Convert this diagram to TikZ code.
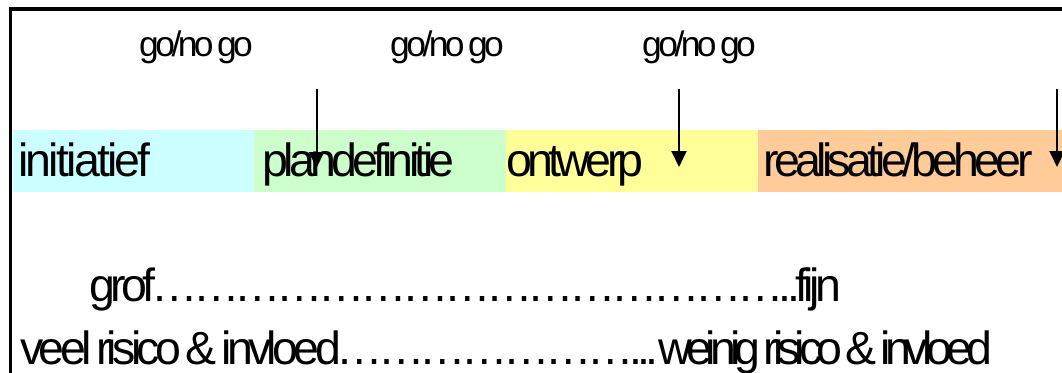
\documentclass[tikz,border=0pt]{standalone}
\usepackage{fontspec}
\setmainfont{Liberation Sans}[LetterSpace=-10,WordSpace=0.55]
\usetikzlibrary{arrows.meta}
\definecolor{bcyan}{HTML}{CCFFFF}
\definecolor{bgreen}{HTML}{CCFFCC}
\definecolor{byellow}{HTML}{FFFF99}
\definecolor{borange}{HTML}{FFCC99}
\tikzset{
  band/.style={fill=#1, draw=none, inner sep=0pt, anchor=north west, minimum height=62.4pt},
  big/.style={inner sep=0pt, anchor=base west, font=\fontsize{46.5}{50}\selectfont},
  small/.style={inner sep=0pt, anchor=base west, font=\fontsize{35.4}{40}\selectfont},
  gate/.style={line width=2pt, -{Triangle[length=16pt,width=15pt]}},
}
\begin{document}
\begin{tikzpicture}[x=1pt,y=-1pt]
\useasboundingbox (0,0) rectangle (1062,372);
\clip (0,0) rectangle (1062,372);
% bands
\node[band=bcyan, minimum width=240.6pt] (b1) at (12.7,129.3) {};
\node[band=bgreen, minimum width=252.3pt] (b2) at (253.3,129.3) {};
\node[band=byellow, minimum width=252.4pt] (b3) at (505.6,129.3) {};
\node[band=borange, minimum width=320pt] (b4) at (758,129.3) {};
% frame
\draw[line width=3.7pt] (10.5,1000) -- (10.5,8.7) -- (1100,8.7);
% labels
\node[small] (g1) at (139,56.7) {go/no go};
\node[small] (g2) at (390,56.7) {go/no go};
\node[small] (g3) at (642,56.7) {go/no go};
\node[big] (t1) at (18,176) {\addfontfeature{LetterSpace=-6}initiatief};
\node[big] (t2) at (262,176) {plandefinitie};
\node[big] (t3) at (506,176) {ontwerp};
\node[big] (t4) at (763,176) {realisatie/beheer};
\node[big] (r1) at (89.5,301.7) {grof………………………………………..fijn};
\node[big] (r2) at (20,364) {veel risico \& invloed…………………...{\addfontfeature{LetterSpace=-13}weinig risico \& invloed}};
% arrows
\coordinate (a1s) at (316.5,89);
\coordinate (a1e) at (316.5,168);
\coordinate (a2s) at (679,89);
\coordinate (a2e) at (679,167);
\coordinate (a3s) at (1057,89);
\coordinate (a3e) at (1057,167);
\draw[gate] (a1s) -- (a1e);
\draw[gate] (a2s) -- (a2e);
\draw[gate] (a3s) -- (a3e);
\end{tikzpicture}
\end{document}
